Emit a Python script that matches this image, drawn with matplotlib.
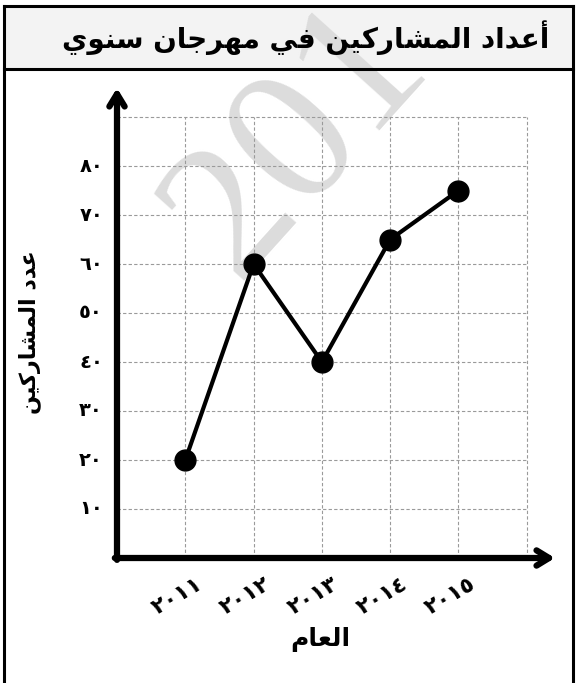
import matplotlib
matplotlib.use("Agg")
import matplotlib.pyplot as plt

# ---- data ----
years = [2011, 2012, 2013, 2014, 2015]
participants = [20, 60, 40, 65, 75]
year_labels = ["٢٠١١", "٢٠١٢", "٢٠١٣", "٢٠١٤", "٢٠١٥"]
y_ticks = [10, 20, 30, 40, 50, 60, 70, 80]
y_tick_labels = ["١٠", "٢٠", "٣٠", "٤٠", "٥٠", "٦٠", "٧٠", "٨٠"]
title_text = "أعداد المشاركين في مهرجان سنوي"
xlabel_text = "العام"
ylabel_text = "عدد المشاركين"
watermark_text = "201"

# ---- minimal arabic shaping (matplotlib has no complex text layout) ----
# letter: (isolated, final, initial, medial); None = right-joining only
_FORMS = {
    "ا": (0xFE8D, 0xFE8E, None, None),
    "أ": (0xFE83, 0xFE84, None, None),
    "ج": (0xFE9D, 0xFE9E, 0xFE9F, 0xFEA0),
    "د": (0xFEA9, 0xFEAA, None, None),
    "ر": (0xFEAD, 0xFEAE, None, None),
    "س": (0xFEB1, 0xFEB2, 0xFEB3, 0xFEB4),
    "ش": (0xFEB5, 0xFEB6, 0xFEB7, 0xFEB8),
    "ع": (0xFEC9, 0xFECA, 0xFECB, 0xFECC),
    "ف": (0xFED1, 0xFED2, 0xFED3, 0xFED4),
    "ك": (0xFED9, 0xFEDA, 0xFEDB, 0xFEDC),
    "ل": (0xFEDD, 0xFEDE, 0xFEDF, 0xFEE0),
    "م": (0xFEE1, 0xFEE2, 0xFEE3, 0xFEE4),
    "ن": (0xFEE5, 0xFEE6, 0xFEE7, 0xFEE8),
    "ه": (0xFEE9, 0xFEEA, 0xFEEB, 0xFEEC),
    "و": (0xFEED, 0xFEEE, None, None),
    "ي": (0xFEF1, 0xFEF2, 0xFEF3, 0xFEF4),
}


def shape(text):
    out = []
    for i, ch in enumerate(text):
        if ch not in _FORMS:
            out.append(ch)
            continue
        iso, fin, ini, med = _FORMS[ch]
        prev = text[i - 1] if i > 0 else ""
        nxt = text[i + 1] if i + 1 < len(text) else ""
        join_prev = prev in _FORMS and _FORMS[prev][2] is not None
        join_next = ini is not None and nxt in _FORMS
        if join_prev and join_next:
            code = med
        elif join_prev:
            code = fin
        elif join_next:
            code = ini
        else:
            code = iso
        out.append(chr(code))
    return "".join(out)[::-1]


plt.rcParams["font.family"] = ["DejaVu Sans"]

W, H = 576, 683
fig = plt.figure(figsize=(W / 100, H / 100), dpi=100)

# frame + title bar (figure pixel coords)
bg = fig.add_axes([0, 0, 1, 1], zorder=-5)
bg.set_xlim(0, W)
bg.set_ylim(H, 0)
bg.axis("off")
bg.add_patch(plt.Rectangle((4, 6), 569, 63, facecolor="#f3f3f3",
                           edgecolor="none", zorder=1))
frame_kw = dict(color="black", lw=2.2, solid_capstyle="projecting", zorder=3)
bg.plot([4, 573], [6, 6], **frame_kw)
bg.plot([4, 573], [69, 69], **frame_kw)
bg.plot([4, 4], [6, H + 5], **frame_kw)
bg.plot([573, 573], [6, H + 5], **frame_kw)
bg.text(306, 38, shape(title_text), fontsize=20, fontweight="bold",
        ha="center", va="center", zorder=4)

# watermark
bg.text(236, 281, watermark_text, fontsize=140, family="Liberation Serif",
        color="#dcdcdc", rotation=48, rotation_mode="anchor",
        ha="left", va="baseline", zorder=2)

# chart axes: x 2010 at px 117, y 0 at px 558
px_year = 68.3
px_ten = 49.0
left, right, bottom, top = 117, 555, 558, 88
ax = fig.add_axes([left / W, (H - bottom) / H, (right - left) / W, (bottom - top) / H])
ax.set_xlim(2010, 2010 + (right - left) / px_year)
ax.set_ylim(0, (bottom - top) / px_ten * 10)
ax.patch.set_alpha(0)
for s in ax.spines.values():
    s.set_visible(False)
ax.set_xticks([])
ax.set_yticks([])

grid_kw = dict(colors="#9a9a9a", lw=0.8, linestyles=(0, (3, 2)), zorder=1)
ax.vlines(years + [2016], 0, 90, **grid_kw)
ax.hlines(y_ticks + [90], 2010, 2016, **grid_kw)

ax.plot(years, participants, color="black", lw=3, marker="o", markersize=15,
        zorder=4, clip_on=False)

arrow_kw = dict(arrowstyle="->,head_length=0.9,head_width=0.55", lw=4.5,
                color="black", shrinkA=0, shrinkB=0)
ax.annotate("", xy=(1, 0), xytext=(-0.005, 0), xycoords="axes fraction",
            arrowprops=arrow_kw, annotation_clip=False)
ax.annotate("", xy=(0, 1), xytext=(0, -0.004), xycoords="axes fraction",
            arrowprops=arrow_kw, annotation_clip=False)

for v, lab in zip(y_ticks, y_tick_labels):
    ax.text(2010 - 14 / px_year, v, lab, fontsize=14, fontweight="bold",
            ha="right", va="center", clip_on=False)

for yr, lab in zip(years, year_labels):
    ax.text(yr - 0.12, -7.8, lab, fontsize=16, fontweight="bold", rotation=30,
            ha="center", va="center", clip_on=False)

bg.text(320, 640, shape(xlabel_text), fontsize=18, fontweight="bold",
        ha="center", va="center")
bg.text(30, 332, shape(ylabel_text), fontsize=16, fontweight="bold",
        rotation=90, ha="center", va="center")

fig.savefig("out.png", dpi=100)
